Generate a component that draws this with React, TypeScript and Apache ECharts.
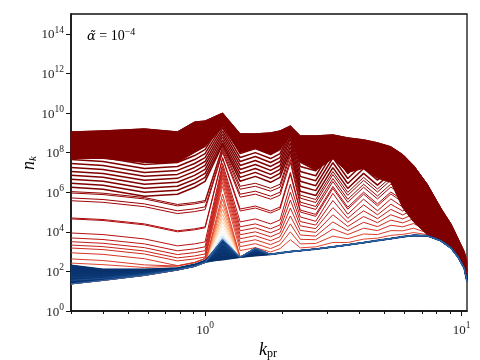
import React, { useEffect, useRef } from "react";
import * as echarts from "echarts";

// k grid (k_pr) at which the spectra are sampled
const K_PR = [0.3, 0.4, 0.58, 0.78, 0.91, 1.0, 1.17, 1.37, 1.57, 1.8, 1.96, 2.15, 2.35, 2.7, 3.15, 3.6, 4.15, 4.7, 5.3, 5.9, 6.5, 7.35, 8.3, 9.1, 9.7, 10.25, 10.5];

// log10(n_k) of the latest spectrum (top envelope) and lower edge of the dense dark band
const TOP_ENV = [9.05, 9.1, 9.2, 9.05, 9.55, 9.6, 10.0, 8.95, 8.95, 9.0, 9.1, 9.35, 8.85, 8.85, 8.9, 8.75, 8.65, 8.5, 8.3, 7.9, 7.35, 6.4, 5.2, 4.4, 3.65, 3.0, 2.5];
const CORE_LOW = [7.7, 7.7, 7.5, 7.5, 8.0, 8.3, 9.3, 8.0, 8.2, 7.9, 8.2, 8.9, 7.5, 7.1, 7.7, 7.0, 7.2, 6.7, 6.5, 5.2, 4.5, 3.85, 3.58, 3.2, 2.75, 2.2, 1.55];

// early (blue) spectra: values at k = 0.3 ... 1.57, then the common tail
const BLUE_HEADS = [
  [2.3, 2.1, 2.1, 2.17, 2.35, 2.55, 2.6, 2.72, 2.8],
  [2.15, 2.0, 2.05, 2.15, 2.33, 2.53, 2.75, 2.72, 2.85],
  [2.0, 1.92, 2.0, 2.13, 2.31, 2.51, 2.9, 2.72, 2.92],
  [1.85, 1.83, 1.95, 2.12, 2.3, 2.5, 3.05, 2.72, 2.98],
  [1.7, 1.74, 1.9, 2.1, 2.28, 2.48, 3.2, 2.72, 3.05],
  [1.55, 1.65, 1.85, 2.09, 2.27, 2.47, 3.4, 2.72, 3.12],
  [1.37, 1.55, 1.8, 2.07, 2.25, 2.45, 3.6, 2.72, 3.18],
];
const BASE_TAIL = [2.86, 2.93, 3.0, 3.05, 3.13, 3.24, 3.34, 3.45, 3.56, 3.66, 3.75, 3.82, 3.8, 3.55, 3.18, 2.72, 2.15, 1.5];

// resonance peak heights (k = 1.17) of the light spectra
const LIGHT_APEX = [3.7, 3.8, 3.95, 4.1, 4.3, 4.5, 4.7, 4.9, 5.15, 5.4, 5.65, 5.9];

// red spectra (log10 n_k on K_PR)
const LOWER_RED = [
  [2.42, 2.34, 2.2, 2.27, 2.45, 2.65, 6.3, 3.05, 3.2, 2.98, 3.15, 3.6, 3.19, 3.24, 3.46, 3.46, 3.63, 3.68, 3.82, 3.87, 3.96, 3.86, 3.58, 3.19, 2.73, 2.15, 1.5],
  [2.63, 2.55, 2.33, 2.27, 2.45, 2.65, 6.5, 3.25, 3.4, 3.15, 3.35, 4.0, 3.39, 3.41, 3.78, 3.65, 3.89, 3.86, 4.06, 4.05, 4.18, 3.95, 3.63, 3.22, 2.74, 2.16, 1.51],
  [2.94, 2.86, 2.64, 2.29, 2.45, 2.65, 6.7, 3.45, 3.6, 3.35, 3.55, 4.4, 3.62, 3.6, 4.14, 3.86, 4.18, 4.06, 4.33, 4.25, 4.42, 4.05, 3.68, 3.24, 2.75, 2.17, 1.51],
  [3.18, 3.1, 2.88, 2.53, 2.63, 2.73, 6.85, 3.65, 3.8, 3.55, 3.75, 4.8, 3.84, 3.78, 4.5, 4.06, 4.48, 4.26, 4.59, 4.45, 4.66, 4.15, 3.73, 3.26, 2.76, 2.17, 1.51],
  [3.33, 3.25, 3.03, 2.68, 2.78, 2.88, 7.0, 3.85, 4.0, 3.75, 3.95, 5.2, 4.07, 3.97, 4.86, 4.27, 4.77, 4.46, 4.86, 4.65, 4.9, 4.25, 3.78, 3.29, 2.77, 2.18, 1.52],
  [3.5, 3.42, 3.2, 2.85, 2.95, 3.05, 7.15, 4.05, 4.2, 3.95, 4.15, 5.6, 4.3, 4.16, 5.22, 4.48, 5.06, 4.66, 5.13, 4.85, 5.14, 4.35, 3.83, 3.31, 2.79, 2.18, 1.52],
  [3.69, 3.61, 3.39, 3.04, 3.14, 3.24, 7.3, 4.25, 4.4, 4.15, 4.35, 6.0, 4.52, 4.34, 5.58, 4.68, 5.36, 4.86, 5.39, 5.05, 5.38, 4.45, 3.88, 3.34, 2.8, 2.19, 1.53],
  [3.94, 3.86, 3.64, 3.29, 3.39, 3.49, 7.45, 4.5, 4.65, 4.4, 4.6, 6.4, 4.75, 4.53, 5.94, 4.89, 5.65, 5.06, 5.66, 5.25, 5.62, 4.55, 3.93, 3.36, 2.81, 2.2, 1.53],
  [4.65, 4.57, 4.35, 4.0, 4.1, 4.2, 7.7, 5.05, 5.2, 4.95, 5.15, 6.9, 5.0, 4.78, 6.19, 5.14, 5.9, 5.31, 5.91, 5.5, 5.87, 4.68, 3.99, 3.39, 2.83, 2.2, 1.54],
  [4.7, 4.62, 4.4, 4.05, 4.15, 4.25, 7.75, 5.15, 5.3, 5.05, 5.25, 7.0, 5.1, 4.88, 6.29, 5.24, 6.0, 5.41, 6.01, 5.6, 5.97, 4.73, 4.01, 3.4, 2.83, 2.21, 1.54],
  [5.57, 5.49, 5.27, 4.92, 5.02, 5.12, 8.0, 5.75, 5.9, 5.65, 5.85, 7.5, 5.35, 5.13, 6.54, 5.49, 6.25, 5.66, 6.26, 5.85, 6.22, 4.85, 4.08, 3.43, 2.85, 2.21, 1.54],
  [5.71, 5.63, 5.41, 5.06, 5.16, 5.26, 8.1, 5.9, 6.05, 5.8, 6.0, 7.65, 5.5, 5.28, 6.69, 5.64, 6.4, 5.81, 6.41, 6.0, 6.37, 4.93, 4.11, 3.45, 2.85, 2.22, 1.55],
  [5.96, 5.88, 5.66, 5.31, 5.41, 5.51, 8.2, 6.15, 6.3, 6.05, 6.25, 7.85, 5.7, 5.48, 6.89, 5.84, 6.6, 6.01, 6.61, 6.2, 6.57, 5.03, 4.16, 3.47, 2.87, 2.22, 1.55],
  [6.03, 5.95, 5.73, 5.38, 5.48, 5.58, 8.3, 6.3, 6.45, 6.2, 6.4, 8.0, 5.85, 5.63, 7.04, 5.99, 6.75, 6.16, 6.76, 6.35, 6.72, 5.1, 4.2, 3.49, 2.88, 2.23, 1.55],
];
const UPPER_RED = [
  [6.25, 6.15, 5.8, 5.9, 6.25, 6.55, 8.4, 6.55, 6.8, 6.5, 6.75, 8.1, 6.05, 5.83, 7.24, 6.19, 6.95, 6.36, 6.96, 6.55, 6.92, 5.2, 4.25, 3.52, 2.89, 2.23, 1.56],
  [6.45, 6.35, 6.0, 6.1, 6.45, 6.75, 8.5, 6.75, 7.0, 6.7, 6.95, 8.3, 6.3, 6.08, 7.49, 6.44, 7.2, 6.61, 7.21, 6.8, 7.17, 5.4, 4.35, 3.58, 2.92, 2.25, 1.57],
  [6.65, 6.55, 6.2, 6.3, 6.65, 6.95, 8.65, 6.95, 7.2, 6.9, 7.15, 8.5, 6.55, 6.33, 7.74, 6.69, 7.45, 6.86, 7.46, 7.05, 7.3, 5.55, 4.45, 3.63, 2.95, 2.26, 1.57],
  [6.85, 6.75, 6.4, 6.5, 6.85, 7.15, 8.8, 7.15, 7.4, 7.1, 7.35, 8.7, 6.8, 6.58, 7.99, 6.94, 7.7, 7.11, 7.71, 7.3, 7.3, 5.8, 4.55, 3.7, 3.0, 2.28, 1.58],
  [7.05, 6.95, 6.6, 6.7, 7.05, 7.35, 8.95, 7.35, 7.6, 7.3, 7.55, 8.85, 7.05, 6.83, 8.24, 7.19, 7.95, 7.36, 7.96, 7.55, 7.3, 6.1, 4.7, 3.8, 3.05, 2.3, 1.6],
  [7.25, 7.15, 6.8, 6.9, 7.25, 7.55, 9.1, 7.55, 7.8, 7.5, 7.75, 9.0, 7.3, 7.08, 8.49, 7.44, 8.2, 7.61, 8.21, 7.8, 7.3, 6.35, 4.85, 3.9, 3.1, 2.35, 1.62],
  [7.45, 7.35, 7.0, 7.1, 7.45, 7.75, 9.25, 7.75, 8.0, 7.7, 7.95, 9.1, 7.55, 7.33, 8.74, 7.69, 8.45, 7.86, 8.25, 7.85, 7.3, 6.35, 5.05, 4.0, 3.2, 2.4, 1.65],
  [7.65, 7.55, 7.2, 7.3, 7.65, 7.95, 9.4, 7.95, 8.2, 7.9, 8.15, 9.2, 7.8, 7.58, 8.85, 7.94, 8.6, 8.11, 8.25, 7.85, 7.3, 6.35, 5.15, 4.1, 3.3, 2.5, 1.7],
  [7.85, 7.75, 7.4, 7.5, 7.85, 8.15, 9.55, 8.15, 8.4, 8.1, 8.35, 9.25, 8.05, 7.83, 8.85, 8.19, 8.6, 8.36, 8.25, 7.85, 7.3, 6.35, 5.15, 4.2, 3.45, 2.65, 1.8],
  [8.05, 7.95, 7.6, 7.7, 8.05, 8.35, 9.7, 8.35, 8.6, 8.3, 8.55, 9.3, 8.25, 8.03, 8.85, 8.39, 8.6, 8.45, 8.25, 7.85, 7.3, 6.35, 5.15, 4.3, 3.6, 2.8, 2.0],
];

// axis ticks
const Y_TICKS = [0, 2, 4, 6, 8, 10, 12, 14];
const X_MAJOR = [1, 10];
const X_MINOR = [0.3, 0.4, 0.5, 0.6, 0.7, 0.8, 0.9, 2, 3, 4, 5, 6, 7, 8, 9];

const BLUE_COLORS = ["#08306b", "#08306b", "#09336f", "#0b3774", "#0f3e7c", "#1a4d8c", "#2f65a4"];
const LIGHT_COLORS = ["#8fb9dd", "#c6dbef", "#eef3f8", "#fff5eb", "#fee8d2", "#fdd6ac", "#fdc290", "#fdaa74", "#fc8f5c", "#f57449", "#e9593a", "#dc402b"];
const LOWER_COLORS = ["#e0442e", "#da3a28", "#d43223", "#cf2a1e", "#c9231a", "#c31c16", "#bd1613", "#b71010", "#b00b0c", "#a90709", "#a20406", "#9b0203", "#940101", "#8d0000"];
const DARK = "#7f0000";
const NAVY = "#0b3470";

const FONT = "'Liberation Serif', 'DejaVu Serif', serif";
const lg = (v: number) => Math.log10(v);
const toPts = (vals: number[]) => vals.map((v, i) => [lg(K_PR[i]), v]);

const lineSeries = (vals: number[], color: string, width: number, z: number) => ({
  type: "line",
  data: toPts(vals),
  showSymbol: false,
  symbol: "none",
  silent: true,
  z,
  lineStyle: { color, width },
  emphasis: { disabled: true },
});

// polygon between two spectra, drawn through the axes' scales
const bandSeries = (upper: number[], lower: number[], color: string, z: number) => ({
  type: "custom",
  silent: true,
  z,
  data: [[0, 0]],
  encode: { x: 0, y: 1 },
  renderItem: (_p: any, api: any) => {
    const n = Math.min(upper.length, lower.length);
    const pts: number[][] = [];
    for (let i = 0; i < n; i++) pts.push(api.coord([lg(K_PR[i]), upper[i]]));
    for (let i = n - 1; i >= 0; i--) pts.push(api.coord([lg(K_PR[i]), lower[i]]));
    return { type: "polygon", shape: { points: pts }, style: { fill: color, stroke: color, lineWidth: 1 } };
  },
});

const supRich = {
  b: { fontFamily: FONT, fontSize: 13, color: "#222" },
  s: { fontFamily: FONT, fontSize: 9.5, color: "#222", padding: [0, 0, 8, 0] },
};

export default function App() {
  const ref = useRef<HTMLDivElement>(null);
  useEffect(() => {
    document.body.style.margin = "0";
    const chart = echarts.init(ref.current!, null, { renderer: "svg" });
    const series: any[] = [];
    LIGHT_APEX.forEach((a, i) => {
      const head = BLUE_HEADS[6];
      const vals = [...head.slice(0, 6), a, head[7], head[8], ...BASE_TAIL];
      series.push(lineSeries(vals, LIGHT_COLORS[i], 1, 2));
    });
    LOWER_RED.forEach((vals, i) => series.push(lineSeries(vals, LOWER_COLORS[i], 1, 3)));
    UPPER_RED.forEach((vals) => series.push(lineSeries(vals, DARK, 1.5, 4)));
    series.push(bandSeries(TOP_ENV, CORE_LOW, DARK, 5));
    series.push(lineSeries(TOP_ENV, DARK, 1, 5));
    const blueTop = [...BLUE_HEADS[0].slice(0, 6), BLUE_HEADS[6][6], BLUE_HEADS[0][7], BLUE_HEADS[6][8], BASE_TAIL[0]];
    const blueBottom = [...BLUE_HEADS[6].slice(0, 6), BLUE_HEADS[0][6], BLUE_HEADS[6][7], BLUE_HEADS[0][8], BASE_TAIL[0]];
    series.push(bandSeries(blueTop, blueBottom, NAVY, 6));
    BLUE_HEADS.forEach((h, i) => series.push(lineSeries([...h, ...BASE_TAIL], BLUE_COLORS[i], i === 0 ? 1.8 : 1.2, 6)));

    const xMin = lg(0.3);
    const xMax = lg(10.5);
    chart.setOption({
      animation: false,
      grid: { left: 71, right: 13, top: 14, bottom: 49, show: true, borderColor: "#111", borderWidth: 1.3 },
      xAxis: [
        {
          type: "value", min: xMin, max: xMax, position: "bottom",
          axisLine: { show: true, onZero: false, lineStyle: { color: "#111", width: 1.6 } },
          axisTick: { show: true, customValues: X_MAJOR.map(lg), length: 5, lineStyle: { color: "#111", width: 1 } },
          axisLabel: { customValues: X_MAJOR.map(lg), margin: 9, formatter: (v: number) => `{b|10}{s|${Math.round(v)}}`, rich: supRich },
          splitLine: { show: false },
        },
        {
          type: "value", min: xMin, max: xMax, position: "bottom",
          axisLine: { show: false, onZero: false },
          axisTick: { show: true, customValues: X_MINOR.map(lg), length: 3, lineStyle: { color: "#111", width: 1 } },
          axisLabel: { show: false },
          splitLine: { show: false },
        },
      ],
      yAxis: {
        type: "value", min: 0, max: 15, position: "left",
        axisLine: { show: true, onZero: false, lineStyle: { color: "#111", width: 1.6 } },
        axisTick: { show: true, customValues: Y_TICKS, length: 5, lineStyle: { color: "#111", width: 1 } },
        axisLabel: { customValues: Y_TICKS, margin: 7, formatter: (v: number) => `{b|10}{s|${Math.round(v)}}`, rich: supRich },
        splitLine: { show: false },
      },
      graphic: [
        {
          type: "text", x: 28, y: 163, rotation: Math.PI / 2,
          style: {
            text: "{i|n}{s|k}", align: "center", verticalAlign: "middle",
            rich: {
              i: { fontFamily: FONT, fontStyle: "italic", fontSize: 18, color: "#222" },
              s: { fontFamily: FONT, fontStyle: "italic", fontSize: 11, color: "#222", padding: [7, 0, 0, 0] },
            },
          },
        },
        {
          type: "text", x: 268, y: 349,
          style: {
            text: "{i|k}{s|pr}", align: "center", verticalAlign: "middle",
            rich: {
              i: { fontFamily: FONT, fontStyle: "italic", fontSize: 18, color: "#222" },
              s: { fontFamily: FONT, fontSize: 12, color: "#222", padding: [7, 0, 0, 0] },
            },
          },
        },
        {
          type: "text", x: 87, y: 35,
          style: {
            text: "{i|\u03b1\u0303}{b| = 10}{s|\u22124}", align: "left", verticalAlign: "middle",
            rich: {
              i: { fontFamily: "'DejaVu Serif', serif", fontStyle: "italic", fontSize: 13, color: "#333" },
              b: { fontFamily: FONT, fontSize: 14, color: "#333" },
              s: { fontFamily: FONT, fontSize: 10, color: "#333", padding: [0, 0, 8, 0] },
            },
          },
        },
      ],
      series,
    });
    return () => chart.dispose();
  }, []);
  return <div ref={ref} style={{ position: "fixed", left: 0, top: 0, width: 480, height: 360 }} />;
}
